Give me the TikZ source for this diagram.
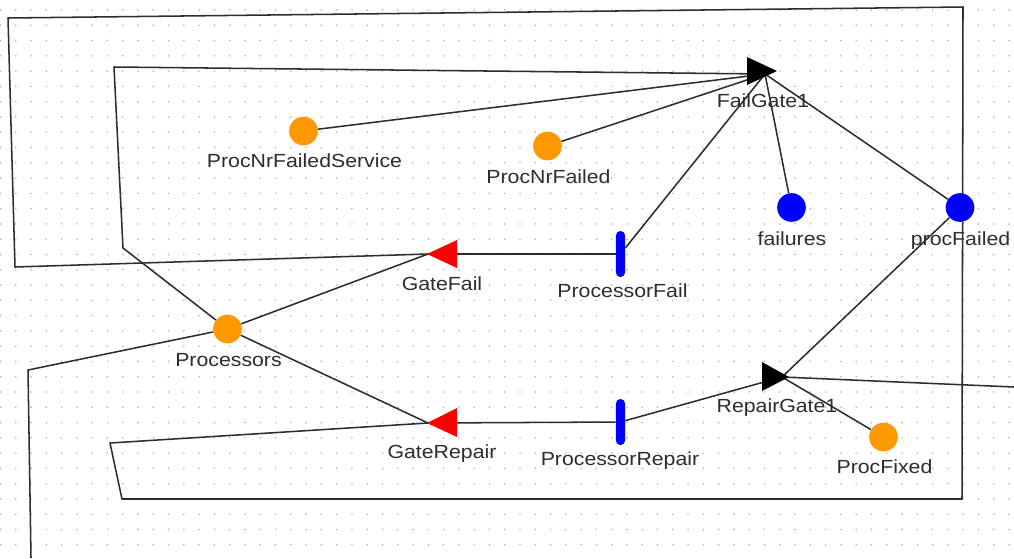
\documentclass[tikz,border=0pt]{standalone}
\usepackage{fontspec}
\newfontfamily\lblfont[FakeStretch=1.12]{Liberation Sans}
\definecolor{placeorange}{RGB}{255,153,0}
\definecolor{arcgray}{RGB}{45,45,45}
\definecolor{dotgray}{RGB}{175,175,175}
\pgfdeclarelayer{canvas}
\pgfdeclarelayer{arcs}
\pgfsetlayers{canvas,arcs,main}
\begin{document}
\begin{tikzpicture}[x=0.75pt,y=-0.75pt,
  arc/.style={draw=arcgray, line width=1.15pt, line join=round},
  place/.style={circle, inner sep=0pt, minimum size=21.5pt},
  orangeplace/.style={place, fill=placeorange},
  blueplace/.style={place, fill=blue},
  activity/.style={rectangle, fill=blue, rounded corners=3.3pt, minimum width=6.8pt, minimum height=34.5pt, inner sep=0pt},
  lbl/.style={anchor=base, inner sep=0pt, text=arcgray, font=\lblfont\fontsize{14.25pt}{16pt}\selectfont},
]
\useasboundingbox (0,0) rectangle (1014,558);
\begin{pgfonlayer}{canvas}
\fill[white] (0,0) rectangle (1014,558);
% dotted canvas grid
\foreach \i in {0,...,66}{\foreach \j in {0,...,36}{\fill[dotgray] (0.5+15.28*\i,10+15.28*\j) circle[radius=0.65pt];}}
\end{pgfonlayer}

% places, activities and gate positions
\node[orangeplace] (ProcNrFailedService) at (303.5,131) {};
\node[orangeplace] (ProcNrFailed) at (547.5,146) {};
\node[blueplace] (failures) at (791.5,207.5) {};
\node[blueplace] (procFailed) at (960,207.5) {};
\node[orangeplace] (Processors) at (227.5,329) {};
\node[orangeplace] (ProcFixed) at (883.5,437) {};
\node[activity] (ProcessorFail) at (620.5,254) {};
\node[activity] (ProcessorRepair) at (620.5,422) {};
\coordinate (FailGate1) at (765,74);
\coordinate (RepairGate1) at (782,377);
\coordinate (GateFail) at (428,254);
\coordinate (GateRepair) at (428,423);
\coordinate (ProcOut) at (31,558);
\coordinate (RepairOut) at (1014,387);

% arcs, kept beneath the places and gates
\begin{pgfonlayer}{arcs}
\draw[arc] (GateFail) -- (15,267) -- (8,18) -- (963,7) -- (962,499) -- (122,499) -- (110,443) -- (GateRepair);
\draw[arc] (Processors) -- (123,248) -- (114,67) -- (FailGate1);
\draw[arc] (Processors) -- (28,370) -- (ProcOut);
\draw[arc] (Processors) -- (GateFail);
\draw[arc] (Processors) -- (GateRepair);
\draw[arc] (GateFail) -- (ProcessorFail);
\draw[arc] (ProcessorFail) -- (FailGate1);
\draw[arc] (ProcNrFailedService) -- (FailGate1);
\draw[arc] (ProcNrFailed) -- (FailGate1);
\draw[arc] (failures) -- (FailGate1);
\draw[arc] (procFailed) -- (FailGate1);
\draw[arc] (procFailed) -- (RepairGate1);
\draw[arc] (GateRepair) -- (ProcessorRepair);
\draw[arc] (ProcessorRepair) -- (RepairGate1);
\draw[arc] (RepairGate1) -- (ProcFixed);
\draw[arc] (RepairGate1) -- (RepairOut);
\end{pgfonlayer}

% gates
\fill[black] ([shift={(-18,-17)}]FailGate1) -- ([shift={(-18,11)}]FailGate1) -- ([shift={(12,-3)}]FailGate1) -- cycle;
\fill[black] ([shift={(-20,-15)}]RepairGate1) -- ([shift={(-20,14)}]RepairGate1) -- ([shift={(7,0)}]RepairGate1) -- cycle;
\fill[red] ([shift={(-1,0)}]GateFail) -- ([shift={(29,-14)}]GateFail) -- ([shift={(29,14)}]GateFail) -- cycle;
\fill[red] ([shift={(-1,0)}]GateRepair) -- ([shift={(29,-15)}]GateRepair) -- ([shift={(29,14)}]GateRepair) -- cycle;

% labels
\node[lbl] (ProcNrFailedService-lbl) at (304.5,167) {ProcNrFailedService};
\node[lbl] (ProcNrFailed-lbl) at (548.5,183) {ProcNrFailed};
\node[lbl] (FailGate1-lbl) at (763,107) {FailGate1};
\node[lbl] (failures-lbl) at (792,245) {failures};
\node[lbl] (procFailed-lbl) at (960.5,245) {procFailed};
\node[lbl] (GateFail-lbl) at (442,290) {GateFail};
\node[lbl] (ProcessorFail-lbl) at (622.5,297) {ProcessorFail};
\node[lbl] (Processors-lbl) at (228.5,366) {Processors};
\node[lbl] (GateRepair-lbl) at (442,458) {GateRepair};
\node[lbl] (ProcessorRepair-lbl) at (620,465) {ProcessorRepair};
\node[lbl] (RepairGate1-lbl) at (777,412) {RepairGate1};
\node[lbl] (ProcFixed-lbl) at (884.5,473) {ProcFixed};
\end{tikzpicture}
\end{document}
